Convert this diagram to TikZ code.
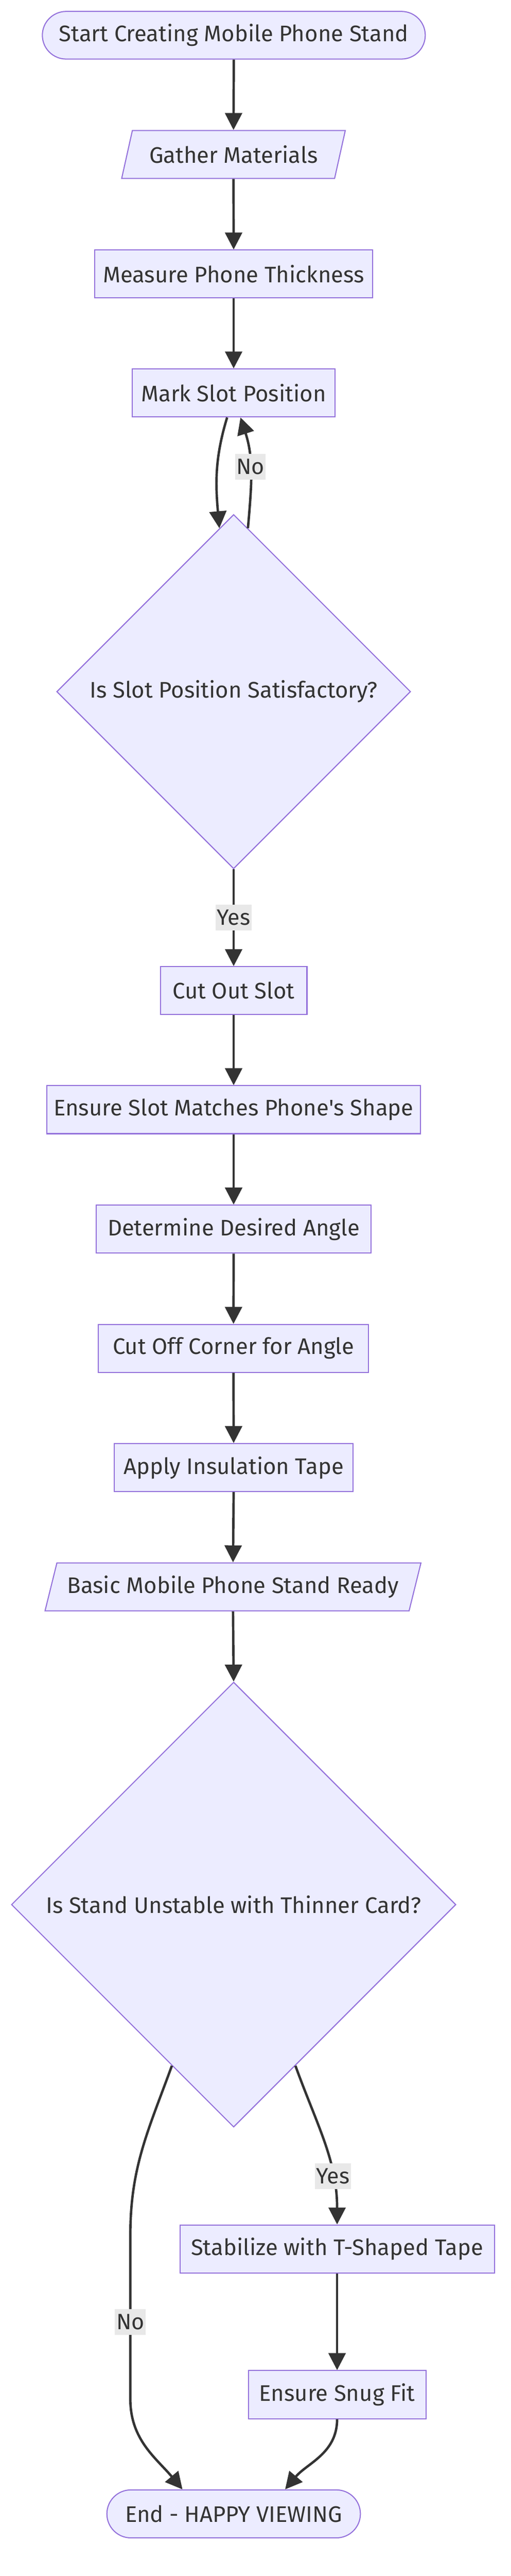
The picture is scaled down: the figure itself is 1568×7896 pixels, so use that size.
\documentclass[tikz,border=0pt]{standalone}
\usepackage{fontspec}
\setmainfont{Fira Sans}
\usepackage{tikz}
\usetikzlibrary{shapes.geometric,shapes.misc,arrows.meta}

\definecolor{boxfill}{HTML}{ECECFF}
\definecolor{boxline}{HTML}{9370DB}
\definecolor{inkgray}{HTML}{333333}
\definecolor{lblgray}{HTML}{E8E8E8}

\tikzset{
    stepbox/.style={draw=boxline, fill=boxfill, line width=1.6pt, text=inkgray, minimum height=73.5pt, inner sep=0pt, font=\fontsize{34.5pt}{41pt}\selectfont},
    termbox/.style={stepbox, rounded rectangle},
    iobox/.style={stepbox, trapezium, trapezium left angle=63.4, trapezium right angle=116.6, trapezium stretches=true},
    askbox/.style={stepbox, diamond, aspect=1},
    flow/.style={draw=inkgray, line width=3.7pt, -{Triangle[length=26pt, width=26pt]}},
    lbl/.style={fill=lblgray, text=inkgray, inner xsep=2pt, inner ysep=0pt, minimum height=39.5pt, font=\fontsize{34pt}{41pt}\selectfont}
}

\begin{document}
\begin{tikzpicture}[x=0.5pt, y=-0.5pt]
        \useasboundingbox (0, 0) rectangle (1568, 7896);
        \fill[white] (0, 0) rectangle (1568, 7896);

        \node[termbox, minimum width=587.5pt, minimum height=73pt] (start) at (717.5, 108) {Start Creating Mobile Phone Stand};
        \node[iobox, minimum width=343.5pt] (gather) at (716.5, 473.5) {Gather Materials};
        \node[stepbox, minimum width=427pt] (measure) at (717, 840) {Measure Phone Thickness};
        \node[stepbox, minimum width=311pt] (mark) at (717, 1204.5) {Mark Slot Position};
        \node[askbox, minimum width=543pt, minimum height=543pt] (slotok) at (717, 2120) {Is Slot Position Satisfactory?};

        \node[stepbox, minimum width=225pt] (cut) at (717, 3036.5) {Cut Out Slot};
        \node[stepbox, minimum width=573pt] (match) at (717, 3401.5) {Ensure Slot Matches Phone\textquotesingle s Shape};
        \node[stepbox, minimum width=421pt] (angle) at (717, 3767.5) {Determine Desired Angle};
        \node[stepbox, minimum width=414.5pt] (corner) at (716.5, 4133) {Cut Off Corner for Angle};
        \node[stepbox, minimum width=367pt] (tape) at (717, 4498.5) {Apply Insulation Tape};
        \node[iobox, minimum width=580pt] (ready) at (715, 4864) {Basic Mobile Phone Stand Ready};
        \node[askbox, minimum width=682pt, minimum height=682pt] (unstable) at (717, 5838) {Is Stand Unstable with Thinner Card?};

        \node[stepbox, minimum width=482.5pt] (tstab) at (1034.5, 6893.5) {Stabilize with T-Shaped Tape};
        \node[stepbox, minimum width=272.5pt] (snug) at (1034.5, 7340) {Ensure Snug Fit};
        \node[termbox, minimum width=389pt] (finish) at (717, 7705.5) {End - HAPPY VIEWING};

        \draw[flow] (start.south) -- (gather.north);
        \draw[flow] (gather.south) -- (measure.north);
        \draw[flow] (measure.south) -- (mark.north);
        \draw[flow] ([xshift=-10pt]mark.south) to[out=-107, in=95] (slotok.95);
        \draw[flow] (slotok.85) to[out=85, in=-72] node[lbl, pos=0.55] {No} ([xshift=10.5pt]mark.south);
        \draw[flow] (slotok.south) -- node[lbl] {Yes} (cut.north);

        \draw[flow] (cut.south) -- (match.north);
        \draw[flow] (match.south) -- (angle.north);
        \draw[flow] (angle.south) -- (corner.north);
        \draw[flow] (corner.south) -- (tape.north);
        \draw[flow] (tape.south) -- (ready.north);
        \draw[flow] (ready.south) -- (unstable.north);

        \draw[flow] (unstable.-69) to[out=-70, in=90] node[lbl, pos=0.72] {Yes} (tstab.north);
        \draw[flow] (tstab.south) -- (snug.north);
        \coordinate (nobend) at (400, 6850);
        \coordinate (nolow) at (400, 7354);
        \draw[flow] (unstable.-111) to[out=-110, in=90] (nobend) -- node[lbl, pos=0.53] {No} (nolow) to[out=-90, in=130] ([xshift=-78.5pt]finish.north);
        \draw[flow] (snug.south) to[out=-90, in=50] ([xshift=79pt]finish.north);

\end{tikzpicture}
\end{document}
